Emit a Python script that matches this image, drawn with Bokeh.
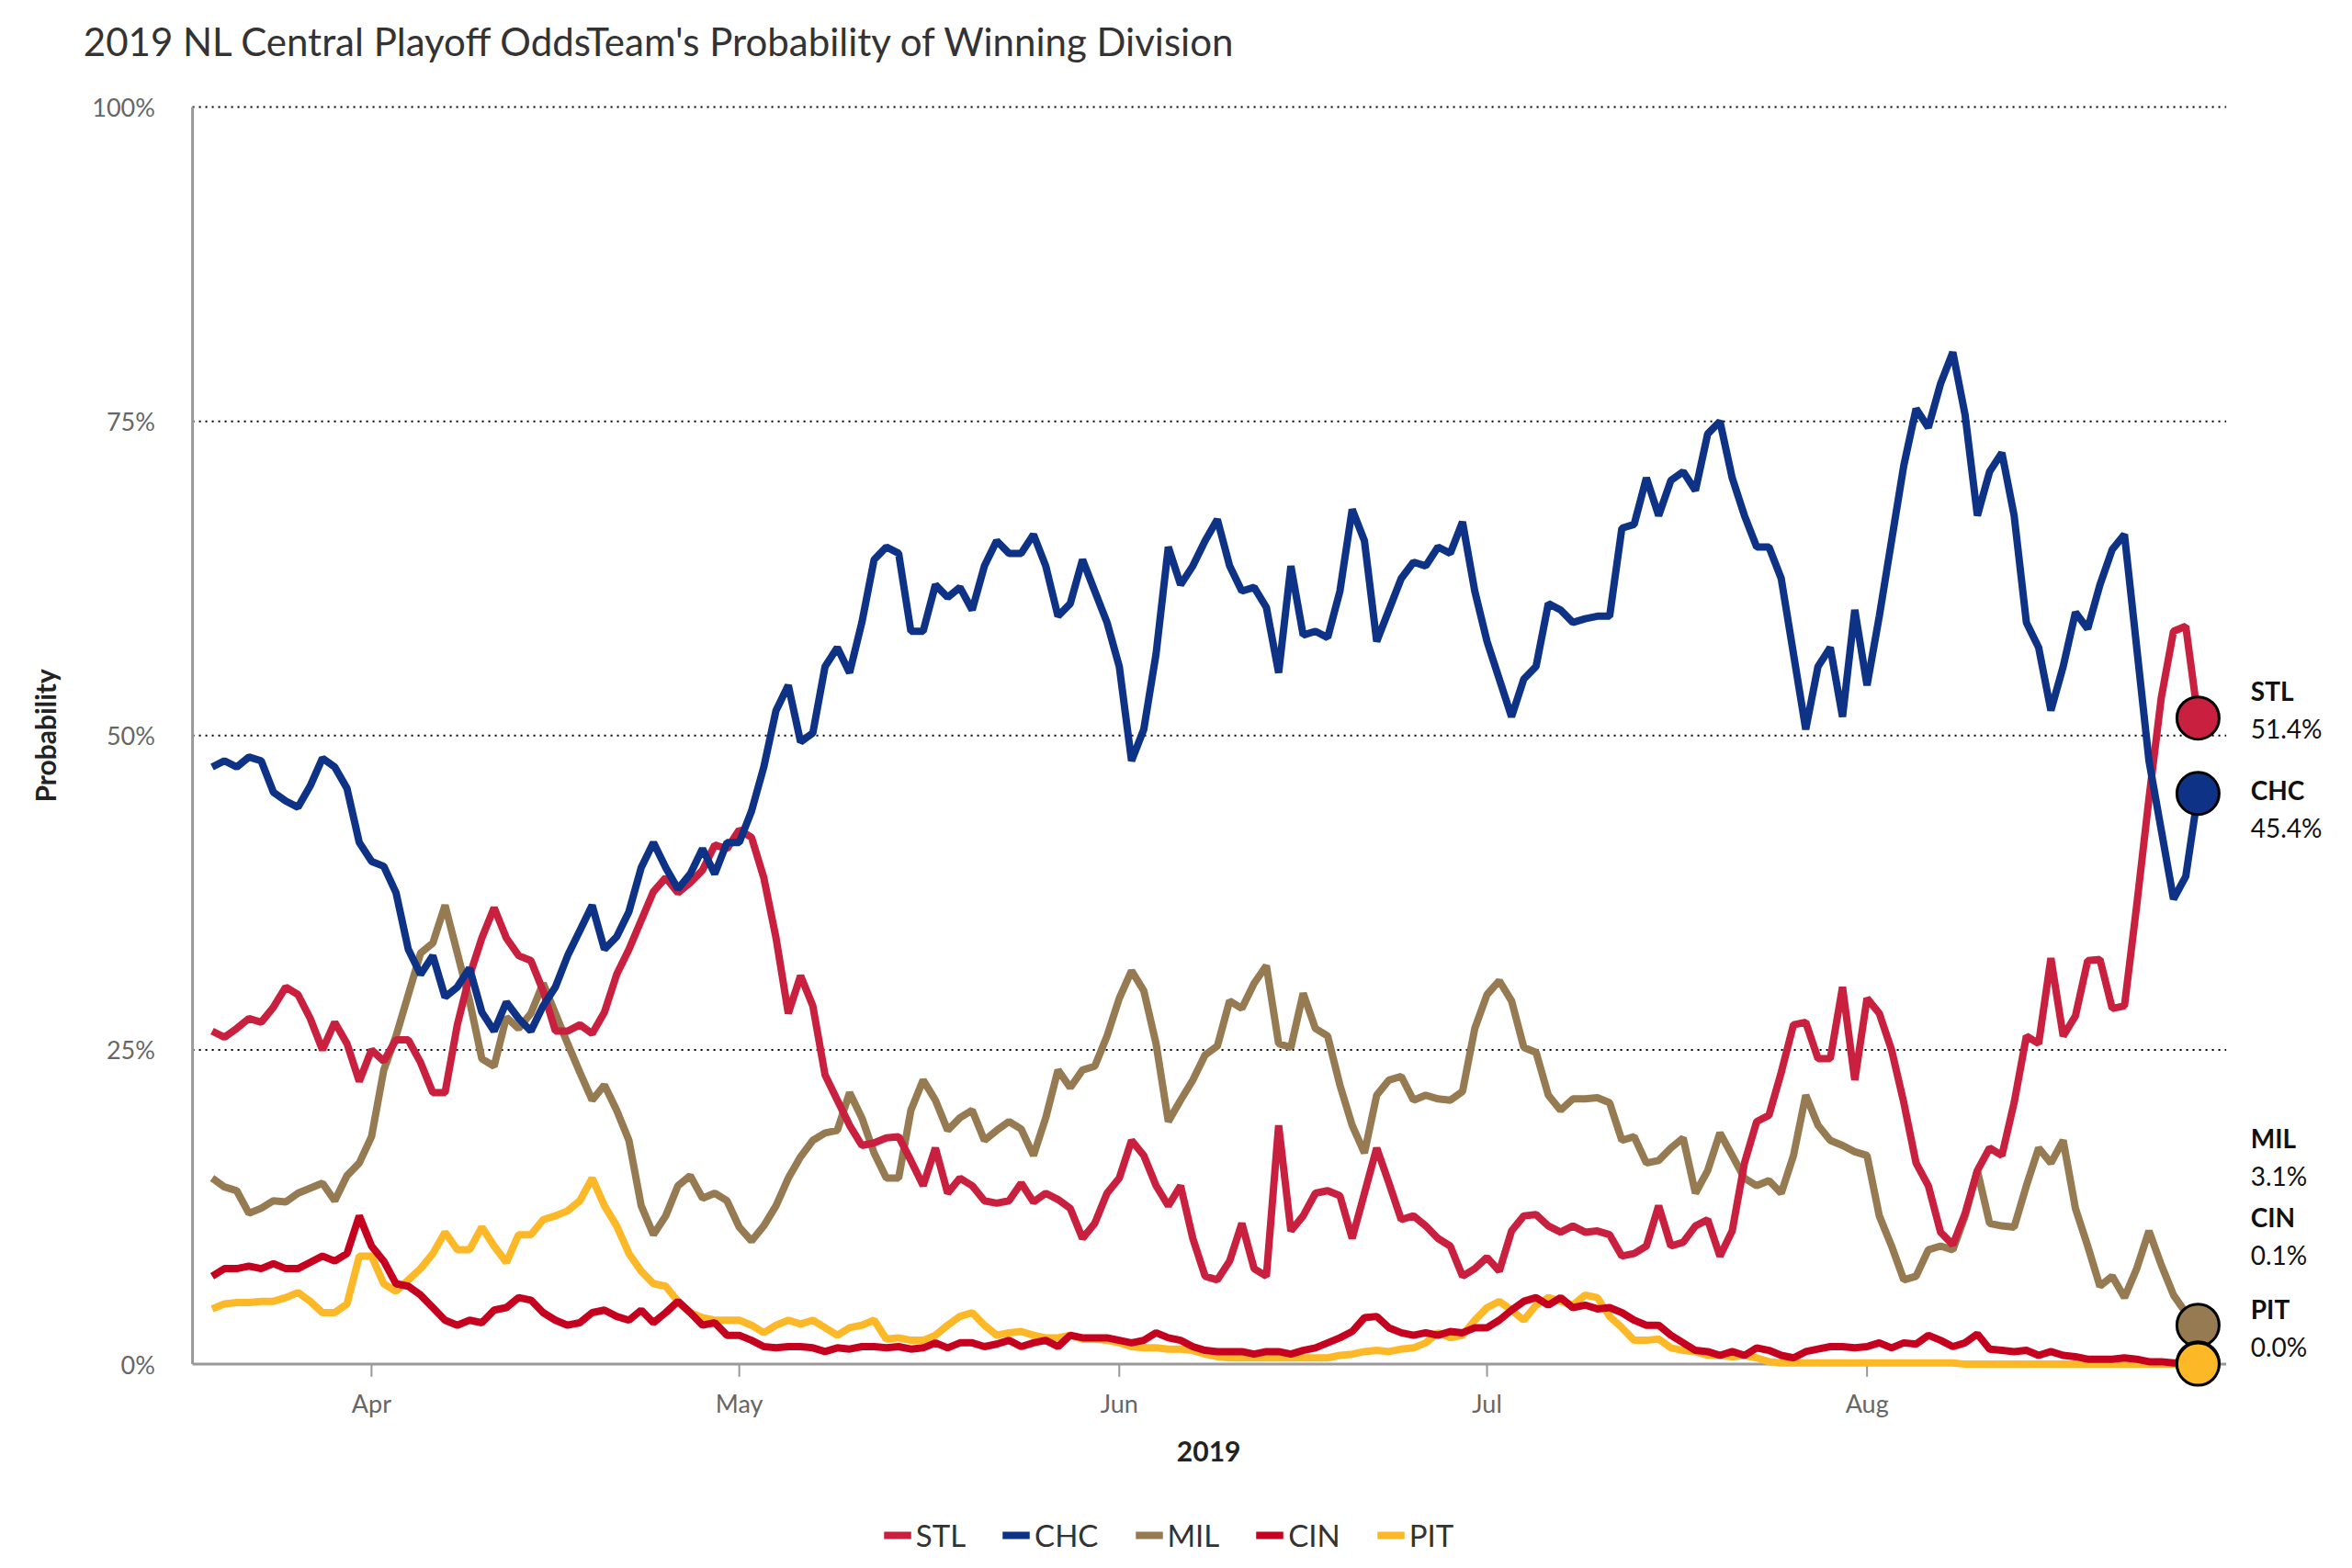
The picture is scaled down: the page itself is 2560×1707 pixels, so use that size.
import math
from bokeh.plotting import figure
from bokeh.models import Range1d, Legend, LegendItem
from bokeh.core.properties import value
from bokeh.embed import file_html
from bokeh.resources import INLINE

title = "2019 NL Central Playoff OddsTeam's Probability of Winning Division"
teams = ["STL", "CHC", "MIL", "CIN", "PIT"]
colors = {"STL": "#C8203E", "CHC": "#0E3386", "MIL": "#957A52", "CIN": "#C6011F", "PIT": "#FDB827"}
month_ticks = [13, 43, 74, 104, 135]   # day index from 2019-03-19
month_labels = ["Apr", "May", "Jun", "Jul", "Aug"]
y_ticks = [0, 25, 50, 75, 100]
y_labels = ["0%", "25%", "50%", "75%", "100%"]

CHC = [47.5,48,47.5,48.3,48,45.5,44.8,44.3,46,48.2,47.5,45.8,41.5,40,39.6,37.5,33,31,32.5,29.2,
       30,31.5,28,26.5,28.8,27.5,26.5,28.5,30,32.5,34.5,36.5,33,34,36,39.5,41.5,39.5,37.8,39,
       41,39,41.5,41.5,44,47.5,52,54,49.5,50.2,55.5,57,55,59,64,65,64.5,58.3,58.3,62,
       61,61.8,60,63.5,65.5,64.5,64.5,66,63.5,59.5,60.5,64,61.5,59,55.5,48,50.5,56.5,65,62,
       63.5,65.5,67.2,63.5,61.5,61.8,60.2,55,63.5,58,58.3,57.8,61.5,68,65.5,57.5,60,62.5,63.8,63.5,
       65,64.5,67,61.5,57.5,54.5,51.5,54.5,55.5,60.5,60,59,59.3,59.5,59.5,66.5,66.8,70.5,67.5,70.3,
       71,69.5,74,75,70.5,67.5,65,65,62.5,56.5,50.5,55.5,57,51.5,60,54,59.5,65.5,71.5,76,
       74.5,78,80.5,75.5,67.5,71,72.5,67.5,59,57,52,55.5,59.8,58.5,62,64.8,66,57,48,42.5,
       37,38.8,45.4]
STL = [26.5,26,26.7,27.5,27.2,28.4,30,29.4,27.5,25,27.2,25.5,22.5,25,24.1,25.8,25.8,24,21.6,21.6,
       27,30.9,33.9,36.3,33.9,32.5,32.1,29.7,26.5,26.5,27,26.3,28,31,33,35.3,37.6,
       38.7,37.5,38.3,39.3,41.3,41,42.5,41.9,38.7,33.9,27.9,30.9,28.5,23,21,19,17.4,17.6,18,18.1,
       16.2,14.2,17.2,13.6,14.8,14.2,13,12.8,13,14.4,12.9,13.6,13.1,12.4,10,11.2,13.6,14.8,17.8,16.6,
       14.2,12.6,14.2,10,7,6.7,8.2,11.2,7.6,7,19,10.6,11.8,13.6,13.8,13.4,10,13.6,17.2,14.4,
       11.5,11.8,11,10,9.4,7,7.6,8.5,7.4,10.6,11.8,11.9,11,10.5,11,10.5,10.6,10.3,8.6,8.8,
       9.4,12.6,9.4,9.7,11,11.5,8.6,10.6,16,19.3,19.8,23.2,27,27.2,24.3,24.3,30,22.6,29.1,27.9,
       25,20.8,16,14.2,10.5,9.5,12,15.4,17.2,16.6,20.8,26.1,25.5,32.3,26.1,27.7,32.1,32.2,28.3,28.5,
       36.5,45,53,58.3,58.7,51.4]
MIL = [14.8,14.1,13.8,12,12.4,13,12.9,13.6,14,14.4,13,15,16,18.1,23.4,26.1,29.4,32.7,33.5,36.5,
       32.7,28.9,24.3,23.7,27.6,26.7,27.9,30.3,27.9,25.5,23.2,21,22.2,20.2,17.8,12.6,10.3,11.8,14.2,15,
       13.2,13.6,13,10.9,9.8,11,12.6,14.8,16.5,17.8,18.4,18.6,21.6,19.6,16.8,14.8,14.8,20.2,22.6,21,
       18.6,19.6,20.2,17.8,18.6,19.3,18.7,16.6,19.6,23.4,22,23.4,23.7,26.1,29.1,31.3,29.7,25.5,19.3,21,
       22.6,24.6,25.3,28.9,28.3,30.3,31.7,25.5,25.2,29.5,26.7,26.1,22.2,19,16.8,21.4,22.6,22.9,21,21.4,
       21.1,21,21.7,26.7,29.4,30.5,28.9,25.2,24.8,21.4,20.2,21.1,21.1,21.2,20.8,17.8,18.1,16,16.2,17.2,
       18,13.6,15.4,18.4,16.6,14.8,14.2,14.6,13.6,16.6,21.4,19,17.8,17.4,16.9,16.6,11.8,9.4,6.7,7,
       9.1,9.4,9.1,11.8,15.4,11.2,11,10.9,14.2,17.2,16,17.8,12.4,9.4,6.2,7,5.3,7.6,10.6,7.9,
       5.5,4.1,3.1]
CIN = [7,7.6,7.6,7.8,7.6,8,7.6,7.6,8.1,8.6,8.2,8.8,11.8,9.4,8.2,6.4,6.2,5.5,4.5,3.5,
       3.1,3.5,3.3,4.3,4.5,5.3,5.1,4.1,3.5,3.1,3.3,4.1,4.3,3.8,3.5,4.3,3.3,4.1,5,4.1,
       3.1,3.3,2.3,2.3,1.9,1.4,1.3,1.4,1.4,1.3,1,1.3,1.2,1.4,1.4,1.3,1.4,1.2,1.3,1.7,
       1.3,1.7,1.7,1.4,1.6,1.9,1.4,1.7,1.9,1.4,2.3,2.1,2.1,2.1,1.9,1.7,1.9,2.5,2.1,1.9,
       1.4,1.1,1,1,1,0.8,1,1,0.8,1.1,1.3,1.7,2.1,2.6,3.7,3.8,2.9,2.5,2.3,2.5,
       2.3,2.6,2.5,2.9,2.9,3.5,4.3,5,5.3,4.7,5.3,4.5,4.7,4.4,4.5,4.1,3.5,3.1,3.1,2.3,
       1.7,1.1,1,0.7,1,0.7,1.3,1.1,0.7,0.5,1,1.2,1.4,1.4,1.3,1.4,1.7,1.3,1.7,1.6,
       2.3,1.9,1.4,1.7,2.4,1.2,1.1,1,1.1,0.7,1,0.7,0.6,0.4,0.4,0.4,0.5,0.4,0.2,0.2,
       0.1,0.1,0.1]
PIT = [4.4,4.8,4.9,4.9,5,5,5.3,5.7,5,4.1,4.1,4.8,8.6,8.6,6.4,5.8,6.7,7.6,8.8,10.5,
       9.1,9.1,10.9,9.4,8.1,10.3,10.3,11.5,11.8,12.2,13,14.8,12.6,11,8.8,7.4,6.4,6.2,5,4.1,
       3.7,3.5,3.5,3.5,3.1,2.5,3.1,3.5,3.2,3.5,2.9,2.3,2.9,3.1,3.5,2,2.1,1.9,1.9,2.3,
       3.1,3.8,4.1,3.1,2.3,2.5,2.6,2.3,2.1,2.1,2.3,2,2,1.9,1.7,1.4,1.3,1.3,1.2,1.2,
       1.1,0.8,0.6,0.5,0.5,0.5,0.5,0.5,0.5,0.5,0.5,0.5,0.7,0.8,1,1.1,1,1.2,1.3,1.7,
       2.5,2.1,2.3,3.5,4.5,5,4.3,3.5,4.7,5.3,5,4.7,5.5,5.3,3.8,2.9,1.9,1.9,2,1.3,
       1.1,1,0.7,0.7,0.6,0.7,0.5,0.2,0.1,0.1,0.1,0.1,0.1,0.1,0.1,0.1,0.1,0.1,0.1,0.1,
       0.1,0.1,0.1,0.0,0.0,0.0,0.0,0.0,0.0,0.0,0.0,0.0,0.0,0.0,0.0,0.0,0.0,0.0,0.0,0.0,
       0.0,0.0,0.0]
series = {"STL": STL, "CHC": CHC, "MIL": MIL, "CIN": CIN, "PIT": PIT}

FONT = value("Lato")
X0, X1 = -17.27, 173.4
Y0, Y1 = -15.08, 108.48
XL, XR = -1.6, 164.3   # plot-area edges (days)

p = figure(width=2544, height=1691, output_backend="svg", toolbar_location=None,
           x_range=Range1d(X0, X1), y_range=Range1d(Y0, Y1),
           x_axis_type=None, y_axis_type=None,
           min_border=0, min_border_left=0, min_border_right=0, min_border_top=0, min_border_bottom=0)
p.outline_line_color = None
p.xgrid.grid_line_color = None
p.ygrid.grid_line_color = None

# title
p.text([-10.5], [105.25], text=[title], text_font=FONT, text_font_size="42px",
       text_color="#333333", text_baseline="middle", text_align="left")

# grid lines
gy = y_ticks[1:]
p.segment([XL] * len(gy), gy, [XR] * len(gy), gy, line_color="black", line_width=2, line_dash="2 5")
# axis lines
p.segment([XL], [0], [XL], [100], line_color="#999999", line_width=3)
p.segment([XL], [0], [XR], [0], line_color="#999999", line_width=3)
# x ticks
p.segment(month_ticks, [0] * 5, month_ticks, [-1.0] * 5, line_color="#999999", line_width=2)
p.text(month_ticks, [-3.1] * 5, text=month_labels, text_font=FONT, text_font_size="27px",
       text_color="#666666", text_align="center", text_baseline="middle")
p.text([-4.65] * 5, y_ticks, text=y_labels, text_font=FONT, text_font_size="27px",
       text_color="#666666", text_align="right", text_baseline="middle")
p.text([81.3], [-6.9], text=["2019"], text_font=FONT, text_font_size="30px",
       text_font_style="bold", text_color="#222222", text_align="center", text_baseline="middle")
p.text([-13.6], [50], text=["Probability"], angle=math.pi / 2, text_font=FONT, text_font_size="30px",
       text_font_style="bold", text_color="#222222", text_align="center", text_baseline="middle")

renderers = {}
for t in ["PIT", "CIN", "MIL", "STL", "CHC"]:
    vals = series[t]
    renderers[t] = p.line(list(range(len(vals))), vals, line_color=colors[t], line_width=8)

for t in ["MIL", "STL", "CHC", "CIN", "PIT"]:
    vals = series[t]
    p.scatter([len(vals) - 1], [vals[-1]], size=46, fill_color=colors[t],
              line_color="black", line_width=3)

name_y = {"STL": 53.6, "CHC": 45.7, "MIL": 18.0, "CIN": 11.7, "PIT": 4.4}
for t in teams:
    vals = series[t]
    p.text([166.3], [name_y[t]], text=[t], text_font=FONT, text_font_size="28px",
           text_font_style="bold", text_baseline="middle", text_color="#111111")
    p.text([166.3], [name_y[t] - 3.0], text=["%.1f%%" % vals[-1]], text_font=FONT,
           text_font_size="28px", text_baseline="middle", text_color="#111111")

legend = Legend(items=[LegendItem(label=t, renderers=[renderers[t]]) for t in teams],
                orientation="horizontal", location="bottom_center")
legend.label_text_font = "Lato"
legend.label_text_font_size = "33px"
legend.label_text_color = "#333333"
legend.glyph_width = 30
legend.spacing = 40
legend.padding = 4
legend.margin = 0
legend.border_line_color = None
legend.background_fill_alpha = 0
p.add_layout(legend)

open("out.html", "w").write(file_html(p, INLINE))
